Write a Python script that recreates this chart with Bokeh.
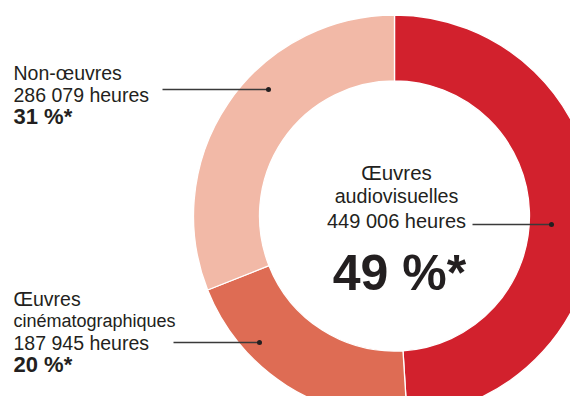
import math
from bokeh.plotting import figure
from bokeh.models import Range1d, ColumnDataSource
from bokeh.core.properties import value
from bokeh.embed import file_html
from bokeh.resources import INLINE

# ---- data ----
categories = ["Œuvres audiovisuelles", "Œuvres cinématographiques", "Non-œuvres"]
hours = [449006, 187945, 286079]
percents = [49, 20, 31]
colors = ["#D2212D", "#DE6C54", "#F2B9A7"]

W, H = 570, 396


def X(x):
    return x


def Y(y):
    return H - y


p = figure(width=W, height=H, output_backend="svg", toolbar_location=None,
           x_range=Range1d(0, W), y_range=Range1d(0, H), min_border=0)
p.axis.visible = False
p.grid.visible = False
p.outline_line_color = None
p.background_fill_color = "white"

# donut
cx, cy = X(394), Y(215.5)
r_in, r_out = 135, 201
starts, ends = [], []
cum = 0
for pc in percents:
    a_end = math.radians(90 - cum * 3.6)
    cum += pc
    a_start = math.radians(90 - cum * 3.6)
    starts.append(a_start)
    ends.append(a_end)
src = ColumnDataSource(dict(start=starts, end=ends, color=colors, cat=categories))
p.annular_wedge(x=cx, y=cy, inner_radius=r_in, outer_radius=r_out,
                start_angle="start", end_angle="end", fill_color="color",
                line_color="white", line_width=1.3, source=src)


def fmt(h):
    return f"{h:,}".replace(",", " ") + " heures"


def pct(v):
    return f"{v} %*"


font = value("Liberation Sans")
txt_color = "#231F20"


def txt(x, y, s, size, bold=False, align="left"):
    p.text(x=[X(x)], y=[Y(y)], text=[s], text_font=font,
           text_font_size=f"{size}px", text_font_style="bold" if bold else "normal",
           text_align=align, text_baseline="alphabetic", text_color=txt_color)


# Non-œuvres label (index 2)
txt(13, 72, "Non-œuvres", 19.5)
txt(13, 94, fmt(hours[2]), 19.5)
txt(13, 115.5, pct(percents[2]), 22, bold=True)

# Œuvres cinématographiques label (index 1)
txt(13, 298, "Œuvres", 19.5)
txt(13, 320, "cinématographiques", 18)
txt(13, 342.5, fmt(hours[1]), 19.5)
txt(13, 363.5, pct(percents[1]), 22, bold=True)

# Œuvres audiovisuelles (index 0) in the centre
txt(396, 172, "Œuvres", 20.5, align="center")
txt(396, 195, "audiovisuelles", 19.7, align="center")
txt(396, 220, fmt(hours[0]), 20, align="center")
txt(399, 272, pct(percents[0]), 50, bold=True, align="center")

# leader lines
lx0 = [X(162), X(173), X(472)]
lx1 = [X(268), X(259), X(551)]
ly = [Y(89), Y(342), Y(224)]
p.segment(x0=lx0, y0=ly, x1=lx1, y1=ly, line_color="#3A3A3A", line_width=1.3)
p.scatter(x=lx1, y=ly, size=5, fill_color="#231F20", line_color=None)

open("out.html", "w").write(file_html(p, INLINE))
